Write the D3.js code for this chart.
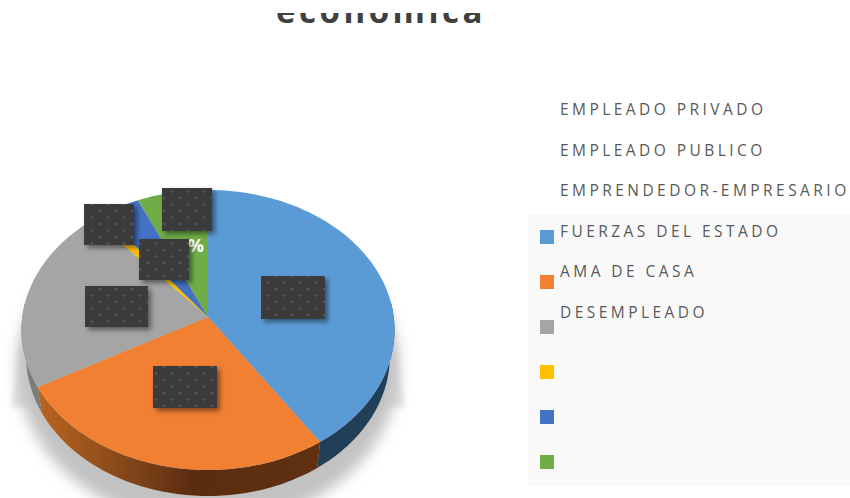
<!DOCTYPE html>
<html>
<head>
<meta charset="utf-8">
<script src="https://cdn.jsdelivr.net/npm/d3@7"></script>
<style>
html, body { margin: 0; padding: 0; background: #fff; }
svg { display: block; }
text { font-family: "Open Sans", sans-serif; }
</style>
</head>
<body>
<script>
const titleText = "económica"
const categories = ["EMPLEADO PRIVADO", "EMPLEADO PUBLICO", "EMPRENDEDOR-EMPRESARIO", "FUERZAS DEL ESTADO", "AMA DE CASA", "DESEMPLEADO"]
// share of each slice in percent (labels are covered)
const sliceValues = [40.6, 26.4, 21.5, 1.1, 3.7, 6.7]
const sliceColors = ["#5b9bd5", "#f28033", "#a5a5a5", "#ffc000", "#4472c4", "#70ad47"]
const sideColors = ["#223f58", "url(#orangeSide)", "#7c7c7c", "#8a6a00", "#2a4478", "#44692b"]
const hiddenLabel = "6.7%"

const w = 850, h = 498
const cx = 208, cy = 317
const rx = 185.7, ry = 138.8, tilt = 0.0929, depth = 26, bottomScale = 0.975

const svg = d3.select("body").append("svg").attr("width", w).attr("height", h)
const defs = svg.append("defs")

defs.append("filter").attr("id", "shadowBlur")
        .attr("x", "-20%").attr("y", "-20%").attr("width", "140%").attr("height", "140%")
        .append("feGaussianBlur").attr("stdDeviation", 7)

defs.append("filter").attr("id", "sideBlur")
        .attr("x", "-20%").attr("y", "-20%").attr("width", "140%").attr("height", "140%")
        .append("feGaussianBlur").attr("stdDeviation", 3)

const boxShadow = defs.append("filter").attr("id", "boxShadow")
        .attr("x", "-20%").attr("y", "-20%").attr("width", "140%").attr("height", "140%")
boxShadow.append("feDropShadow").attr("dx", 3).attr("dy", 3).attr("stdDeviation", 2.5)
        .attr("flood-color", "#000").attr("flood-opacity", 0.45)

const grad = defs.append("linearGradient").attr("id", "orangeSide")
        .attr("gradientUnits", "userSpaceOnUse")
        .attr("x1", 37).attr("x2", 320).attr("y1", 0).attr("y2", 0)
grad.selectAll("stop").data([[0, "#bb651f"], [0.25, "#8f4d1c"], [0.55, "#5b2d10"], [1, "#5f3011"]])
        .enter().append("stop")
        .attr("offset", function(d) { return d[0] })
        .attr("stop-color", function(d) { return d[1] })

const dots = defs.append("pattern").attr("id", "dots")
        .attr("patternUnits", "userSpaceOnUse").attr("width", 16).attr("height", 13)
dots.append("rect").attr("width", 16).attr("height", 13).attr("fill", "#3b3b3b")
dots.selectAll("circle").data([[4, 3], [12, 9.5]]).enter().append("circle")
        .attr("cx", function(d) { return d[0] })
        .attr("cy", function(d) { return d[1] })
        .attr("r", 1.3).attr("fill", "#575757")

// perspective view of the unit disk, angle is clockwise from the top
function project(a, r) {
        const x = r * Math.sin(a), y = r * Math.cos(a)
        const q = 1 + tilt * y
        return [cx + rx * x / q, cy - ry * y / q]
}

const line = d3.line()
const pie = d3.pie().sort(null)
const slices = pie(sliceValues)

function rim(a0, a1) {
        const n = Math.max(2, Math.ceil((a1 - a0) / 0.02))
        return d3.range(n + 1).map(function(i) {
                return project(a0 + (a1 - a0) * i / n, 1)
        })
}

// soft floor shadow
const shadow = svg.append("g")
shadow.append("path")
        .attr("filter", "url(#sideBlur)")
        .attr("d", line([[cx - rx + 2, cy + 8], [cx + rx - 2, cy + 8], [cx + rx + 11, cy + 90], [cx - rx - 11, cy + 90]]) + "Z")
        .attr("fill", "#e0e0e0")
shadow.append("ellipse")
        .attr("filter", "url(#shadowBlur)")
        .attr("cx", cx).attr("cy", cy + 50).attr("rx", rx + 5).attr("ry", ry + 20)
        .attr("fill", "#c2c2c2")

// side wall, the lower edge sits a little further in than the top rim
const sides = svg.append("g")
slices.forEach(function(d, i) {
        const a0 = Math.max(d.startAngle, Math.PI / 2 - 0.1)
        const a1 = Math.min(d.endAngle, Math.PI * 3 / 2 + 0.1)
        if (a1 <= a0) return
        const top = rim(a0, a1)
        const bottom = top.map(function(p) {
                return [cx + (p[0] - cx) * bottomScale, p[1] + depth]
        }).reverse()
        sides.append("path")
                .attr("d", line(top.concat(bottom)) + "Z")
                .attr("fill", sideColors[i])
})

// top face
svg.append("g").selectAll("path").data(slices).enter().append("path")
        .attr("d", function(d) {
                return line([[cx, cy]].concat(rim(d.startAngle, d.endAngle))) + "Z"
        })
        .attr("fill", function(d, i) { return sliceColors[i] })

// only the % of the green label is left uncovered
svg.append("text")
        .attr("x", 204).attr("y", 252)
        .attr("text-anchor", "end")
        .attr("font-size", 18).attr("font-weight", 700)
        .attr("fill", "#fff")
        .text(hiddenLabel)

// dark boxes over the data labels
const boxes = [[261, 276, 64, 43], [153, 366, 64, 42], [85, 286, 63, 41], [84, 204, 50, 41], [139, 239, 50, 41], [162, 188, 50, 43]]
svg.append("g").selectAll("rect").data(boxes).enter().append("rect")
        .attr("x", function(d) { return d[0] })
        .attr("y", function(d) { return d[1] })
        .attr("width", function(d) { return d[2] })
        .attr("height", function(d) { return d[3] })
        .attr("fill", "url(#dots)")
        .attr("filter", "url(#boxShadow)")

// legend, labels and keys are out of step as in the picture
svg.append("rect").attr("x", 528).attr("y", 214).attr("width", 322).attr("height", 272).attr("fill", "#f9f9f9")

const labelY = d3.scaleLinear().domain([0, 5]).range([115, 318])
svg.append("g").selectAll("text").data(categories).enter().append("text")
        .attr("x", 560)
        .attr("y", function(d, i) { return labelY(i) })
        .attr("font-size", 15.5)
        .attr("letter-spacing", 3.45)
        .attr("fill", "#595959")
        .text(function(d) { return d })

const keyY = d3.scaleLinear().domain([0, 5]).range([230, 455])
svg.append("g").selectAll("rect").data(sliceColors).enter().append("rect")
        .attr("x", 540)
        .attr("y", function(d, i) { return keyY(i) })
        .attr("width", 14).attr("height", 14)
        .attr("fill", function(d) { return d })

// title, cut off at the top of the page
defs.append("clipPath").attr("id", "titleClip")
        .append("rect").attr("x", 0).attr("y", 13).attr("width", w).attr("height", 30)
svg.append("text")
        .attr("x", 381).attr("y", 23)
        .attr("text-anchor", "middle")
        .attr("font-size", 33).attr("font-weight", 700)
        .attr("letter-spacing", 3.5)
        .attr("fill", "#404040")
        .attr("clip-path", "url(#titleClip)")
        .text(titleText)
</script>
</body>
</html>
